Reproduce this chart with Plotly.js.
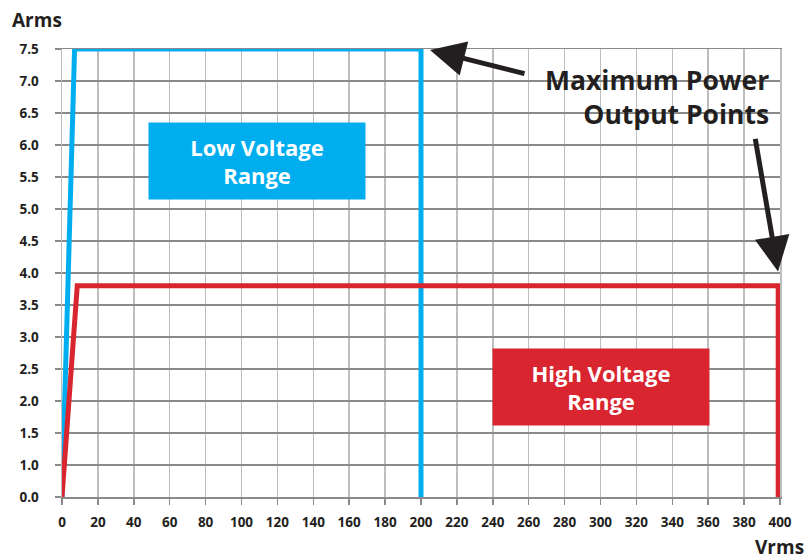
<!DOCTYPE html>
<html>
<head>
<meta charset="utf-8">
<script src="https://cdn.plot.ly/plotly-3.0.1.min.js"></script>
<style>html,body{margin:0;padding:0;background:#fff;}#chart{width:807px;height:559px;}</style>
</head>
<body>
<div id="chart"></div>
<script>
// Data (Vrms, Arms)
const lowVoltageV = [0, 7, 200, 200];
const lowVoltageA = [0, 7.5, 7.5, 0];
const highVoltageV = [0, 8.5, 399, 399];
const highVoltageA = [0, 3.8, 3.8, 0];
const xTickValues = [0,20,40,60,80,100,120,140,160,180,200,220,240,260,280,300,320,340,360,380,400];
const yTickValues = [0.0,1.0,1.5,2.0,2.5,3.0,3.5,4.0,4.5,5.0,5.5,6.0,6.5,7.0,7.5];
const yTickLabels = ["0.0","1.0","1.5","2.0","2.5","3.0","3.5","4.0","4.5","5.0","5.5","6.0","6.5","7.0","7.5"];

// The reference y axis is piecewise: 0..1 occupies one grid step, then each 0.5 is one step
function yPos(v){ return v <= 1 ? v : 1 + (v - 1) / 0.5; }

const FONT = '"Open Sans", "Noto Sans", sans-serif';
const BLUE = '#00AEEF', RED = '#D9252F', DARK = '#231F20';

const traces = [
  {x: lowVoltageV, y: lowVoltageA.map(yPos), mode: 'lines', line: {color: BLUE, width: 5}, cliponaxis: false, hoverinfo: 'skip'},
  {x: highVoltageV, y: highVoltageA.map(yPos), mode: 'lines', line: {color: RED, width: 5}, cliponaxis: false, hoverinfo: 'skip'}
];

const layout = {
  width: 807, height: 559,
  margin: {l: 62, r: 27, t: 49, b: 62},
  paper_bgcolor: '#fff', plot_bgcolor: '#fff',
  showlegend: false,
  font: {family: FONT, color: DARK},
  xaxis: {
    range: [0, 400], tickvals: xTickValues, ticktext: xTickValues.map(String),
    showgrid: true, gridcolor: '#bdbdbd', gridwidth: 1.5,
    zeroline: false, showline: true, linecolor: '#8a8a8a', linewidth: 1.5, mirror: true,
    ticks: 'outside', ticklen: 6, tickcolor: '#8a8a8a', tickwidth: 1.5,
    tickfont: {family: FONT, size: 13.5, color: DARK, weight: 'bold'},
    ticklabelstandoff: 6, fixedrange: true
  },
  yaxis: {
    range: [0, 14], tickvals: yTickValues.map(yPos), ticktext: yTickLabels,
    showgrid: true, gridcolor: '#8a8a8a', gridwidth: 1.5,
    zeroline: false, showline: true, linecolor: '#bdbdbd', linewidth: 1.5, mirror: true,
    ticks: 'outside', ticklen: 6, tickcolor: '#8a8a8a', tickwidth: 1.5,
    tickfont: {family: FONT, size: 13.5, color: DARK, weight: 'bold'},
    ticklabelstandoff: 13, fixedrange: true
  },
  annotations: [
    {xref: 'paper', yref: 'paper', x: -0.0724, y: 1.065, xanchor: 'left', yanchor: 'middle',
     text: 'Arms', showarrow: false, font: {family: FONT, size: 19, color: DARK, weight: 'bold'}},
    {xref: 'paper', yref: 'paper', x: 1.036, y: -0.111, xanchor: 'right', yanchor: 'middle',
     text: 'Vrms', showarrow: false, font: {family: FONT, size: 19, color: DARK, weight: 'bold'}},
    {xref: 'x', yref: 'y', x: 108.6, y: 10.5, text: 'Low Voltage<br>Range', showarrow: false,
     bgcolor: BLUE, width: 216, height: 76, borderpad: 0, align: 'center', valign: 'middle',
     font: {family: FONT, size: 22, color: '#ffffff', weight: 'bold'}},
    {xref: 'x', yref: 'y', x: 300.3, y: 3.44, text: 'High Voltage<br>Range', showarrow: false,
     bgcolor: RED, width: 216, height: 76, borderpad: 0, align: 'center', valign: 'middle',
     font: {family: FONT, size: 22, color: '#ffffff', weight: 'bold'}},
    {xref: 'paper', yref: 'paper', x: (771-62)/718, y: (497-97)/448, xanchor: 'right', yanchor: 'middle',
     text: 'Maximum Power<br>Output Points', showarrow: false, align: 'right',
     font: {family: FONT, size: 26.5, color: DARK, weight: 'bold'}},
    {xref: 'x', yref: 'y', x: 205, y: 13.97, ax: 96, ay: 24, axref: 'pixel', ayref: 'pixel',
     text: '', showarrow: true, arrowhead: 2, arrowsize: 1.4, arrowwidth: 5, arrowcolor: DARK},
    {xref: 'x', yref: 'y', x: 398.9, y: 7.05, ax: -23, ay: -134, axref: 'pixel', ayref: 'pixel',
     text: '', showarrow: true, arrowhead: 2, arrowsize: 1.4, arrowwidth: 5, arrowcolor: DARK}
  ]
};

Plotly.newPlot('chart', traces, layout, {displayModeBar: false, staticPlot: true});
</script>
</body>
</html>
